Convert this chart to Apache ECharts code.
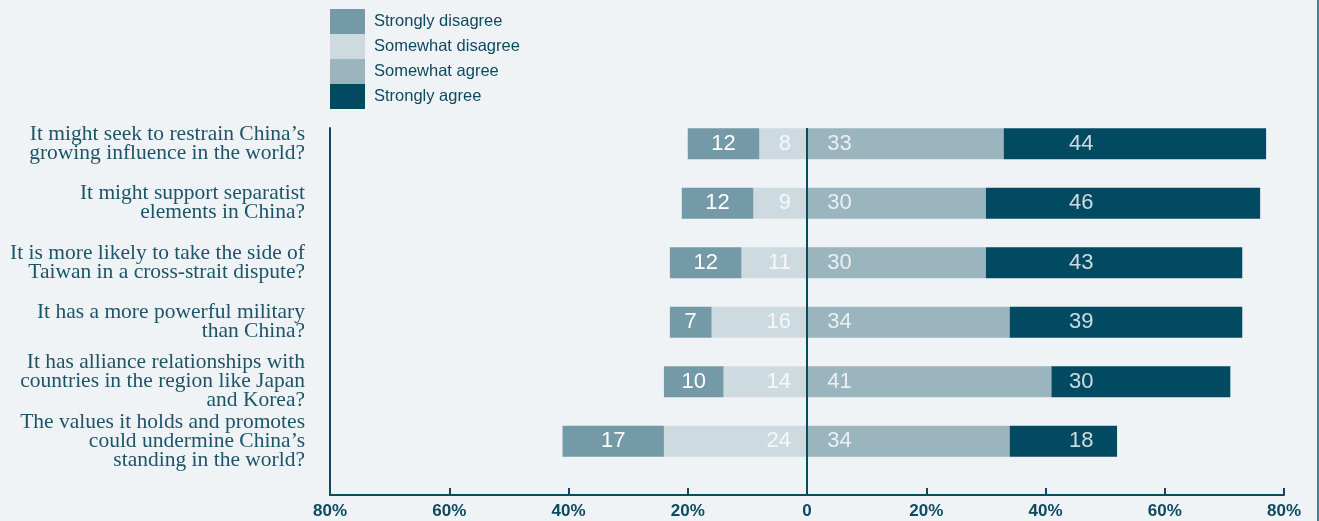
<!DOCTYPE html>
<html>
<head>
<meta charset="utf-8">
<title>Perceptions of the United States</title>
<script src="https://cdn.jsdelivr.net/npm/echarts@6/dist/echarts.min.js"></script>
<style>
  html, body { margin: 0; padding: 0; background: #eff3f6; }
  #chart { width: 1319px; height: 521px; }
</style>
</head>
<body>
<div id="chart"></div>
<script>
// Survey statements (top to bottom)
const categories = [
  'It might seek to restrain China\u2019s\ngrowing influence in the world?',
  'It might support separatist\nelements in China?',
  'It is more likely to take the side of\nTaiwan in a cross-strait dispute?',
  'It has a more powerful military\nthan China?',
  'It has alliance relationships with\ncountries in the region like Japan\nand Korea?',
  'The values it holds and promotes\ncould undermine China\u2019s\nstanding in the world?'
];

// Shares of respondents, in percent
const stronglyDisagree = [12, 12, 12, 7, 10, 17];
const somewhatDisagree = [8, 9, 11, 16, 14, 24];
const somewhatAgree = [33, 30, 30, 34, 41, 34];
const stronglyAgree = [44, 46, 43, 39, 30, 18];

// Axis ticks
const axisTicks = [-80, -60, -40, -20, 0, 20, 40, 60, 80];

const seriesNames = ['Strongly disagree', 'Somewhat disagree', 'Somewhat agree', 'Strongly agree'];
const colors = {
  'Strongly disagree': '#7499a7',
  'Somewhat disagree': '#cddbe0',
  'Somewhat agree': '#9ab5bd',
  'Strongly agree': '#024a61'
};
const ink = '#0d4a60';

// Where the value labels sit along the axis (percent)
const LABEL_X_SOMEWHAT_DISAGREE = -2.7;
const LABEL_X_SOMEWHAT_AGREE = 3.4;
const LABEL_X_STRONGLY_AGREE = 46;

const valueFont = { color: '#ffffff', fontSize: 22, fontFamily: 'Liberation Sans, Arial, sans-serif' };

function barSeries(name, values, sign, showLabel) {
  return {
    name: name,
    type: 'bar',
    stack: 'total',
    barWidth: 31,
    xAxisIndex: 0,
    yAxisIndex: 0,
    itemStyle: { color: colors[name] },
    label: Object.assign({
      show: showLabel,
      position: 'inside',
      formatter: p => String(Math.abs(p.value))
    }, valueFont),
    emphasis: { disabled: true },
    data: values.map(v => sign * v)
  };
}

function labelSeries(values, x, align) {
  return {
    type: 'scatter',
    xAxisIndex: 0,
    yAxisIndex: 0,
    symbolSize: 1,
    itemStyle: { color: 'rgba(0,0,0,0)' },
    silent: true,
    z: 6,
    label: Object.assign({
      show: true,
      position: 'inside',
      align: align,
      formatter: p => String(values[p.dataIndex])
    }, valueFont),
    data: values.map((v, i) => [x, i])
  };
}

const chart = echarts.init(document.getElementById('chart'), null, { renderer: 'canvas' });

chart.setOption({
  backgroundColor: '#eff3f6',
  animation: false,
  legend: {
    left: 330,
    top: 9,
    padding: 0,
    orient: 'vertical',
    itemWidth: 35,
    itemHeight: 25,
    itemGap: 0,
    icon: 'rect',
    selectedMode: false,
    data: seriesNames,
    textStyle: {
      color: ink,
      fontSize: 16.5,
      fontFamily: 'Liberation Sans, Arial, sans-serif',
      padding: [0, 0, 0, 4]
    }
  },
  graphic: [{
    type: 'rect',
    shape: { x: 1317, y: 0, width: 2, height: 521 },
    style: { fill: '#4e7b8d' },
    silent: true
  }],
  grid: [
    { left: 330, right: 35, top: 114, height: 357 },
    { left: 330, right: 35, top: 128, bottom: 26 }
  ],
  xAxis: [
    { gridIndex: 0, type: 'value', min: -80, max: 80, show: false },
    {
      gridIndex: 1,
      type: 'value',
      min: -80,
      max: 80,
      interval: 20,
      axisLine: { show: true, lineStyle: { color: ink, width: 2 } },
      axisTick: { show: true, inside: true, length: 7, lineStyle: { color: ink, width: 2 } },
      splitLine: { show: false },
      axisLabel: {
        margin: 8,
        color: ink,
        fontSize: 17,
        fontWeight: 'bold',
        fontFamily: 'Liberation Sans, Arial, sans-serif',
        formatter: v => (v === 0 ? '0' : Math.abs(v) + '%')
      }
    }
  ],
  yAxis: [
    {
      gridIndex: 0,
      type: 'category',
      inverse: true,
      data: categories,
      axisLine: { show: false },
      axisTick: { show: false },
      splitLine: { show: false },
      axisLabel: {
        interval: 0,
        hideOverlap: false,
        margin: 25,
        color: '#1d5468',
        fontSize: 21.5,
        lineHeight: 19,
        align: 'right',
        fontFamily: 'Liberation Serif, Times New Roman, serif'
      }
    },
    {
      gridIndex: 1,
      type: 'value',
      min: 0,
      max: 1,
      axisLine: { show: true, onZero: false, lineStyle: { color: ink, width: 2 } },
      axisTick: { show: false },
      axisLabel: { show: false },
      splitLine: { show: false }
    }
  ],
  series: [
    barSeries('Somewhat disagree', somewhatDisagree, -1, false),
    barSeries('Strongly disagree', stronglyDisagree, -1, true),
    barSeries('Somewhat agree', somewhatAgree, 1, false),
    barSeries('Strongly agree', stronglyAgree, 1, false),
    labelSeries(somewhatDisagree, LABEL_X_SOMEWHAT_DISAGREE, 'right'),
    labelSeries(somewhatAgree, LABEL_X_SOMEWHAT_AGREE, 'left'),
    labelSeries(stronglyAgree, LABEL_X_STRONGLY_AGREE, 'center'),
    {
      // zero line
      type: 'line',
      xAxisIndex: 1,
      yAxisIndex: 1,
      showSymbol: false,
      lineStyle: { width: 0 },
      silent: true,
      z: 10,
      data: [[0, 0]],
      markLine: {
        silent: true,
        symbol: ['none', 'none'],
        label: { show: false },
        lineStyle: { color: ink, width: 2, type: 'solid' },
        data: [{ xAxis: 0 }]
      }
    }
  ]
});
</script>
</body>
</html>
